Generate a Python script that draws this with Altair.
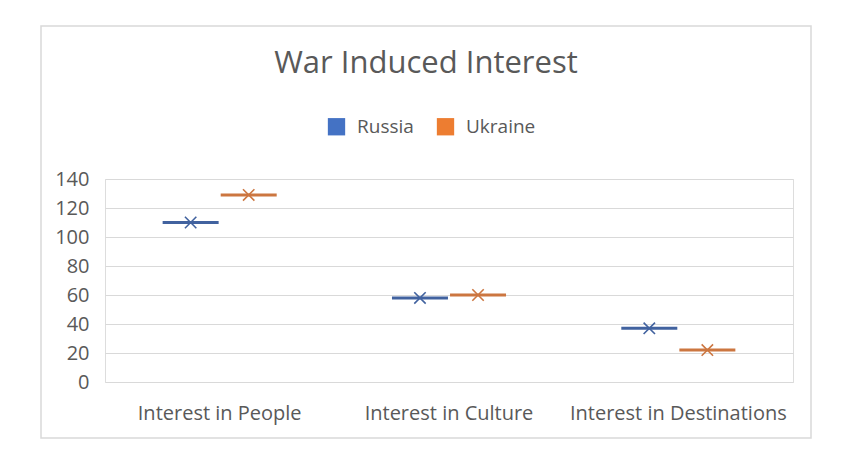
import altair as alt
import pandas as pd

categories = ["Interest in People", "Interest in Culture", "Interest in Destinations"]
series = ["Russia", "Ukraine"]
russia = [110, 58, 37]
ukraine = [129, 60, 22]
y_ticks = [0, 20, 40, 60, 80, 100, 120, 140]

rows = []
for c, r, u in zip(categories, russia, ukraine):
    rows.append({"category": c, "series": "Russia", "value": r})
    rows.append({"category": c, "series": "Ukraine", "value": u})
df = pd.DataFrame(rows)
df["mark_series"] = df["series"]

FONT = "Open Sans"
GREY = "#595959"

x_enc = alt.X("category:N", sort=categories,
              scale=alt.Scale(paddingInner=0, paddingOuter=0),
              axis=alt.Axis(title=None, labelAngle=0, labelFontSize=20, labelColor=GREY,
                            labelFont=FONT, domain=False, ticks=False, labelPadding=21,
                            labelLimit=400))
xoff = alt.XOffset("series:N", sort=series, scale=alt.Scale(paddingOuter=0.975, paddingInner=0))
y_enc = alt.Y("value:Q", scale=alt.Scale(domain=[0, 140], nice=False),
              axis=alt.Axis(title=None, values=y_ticks, labelFontSize=20, labelColor=GREY,
                            labelFont=FONT, domain=False, ticks=False, labelPadding=16,
                            gridColor="#d9d9d9", gridWidth=1.2))
color = alt.Color("series:N", sort=series,
                  scale=alt.Scale(domain=series, range=["#4472C4", "#ED7D31"]),
                  legend=alt.Legend(title=None, orient="none", legendX=222, legendY=-62,
                                    direction="horizontal", symbolType="square",
                                    symbolSize=300, symbolStrokeWidth=0, symbolOpacity=1,
                                    labelFontSize=19, labelColor=GREY, labelFont=FONT,
                                    columnPadding=22, labelOffset=11))
mark_colors = alt.Scale(domain=series, range=["#41629f", "#cc7640"])

frame = alt.Chart(pd.DataFrame({"k": [0]})).mark_rect(
    fill=None, stroke="#d9d9d9", strokeWidth=1.5
).encode(x=alt.value(-64), x2=alt.value(706), y=alt.value(-153), y2=alt.value(259))

legend_layer = alt.Chart(df).mark_square(opacity=0, filled=True).encode(
    x=x_enc, xOffset=xoff, y=y_enc, color=color)

ticks = alt.Chart(df).mark_tick(thickness=3, size=56, opacity=1).encode(
    x=x_enc, xOffset=xoff, y=y_enc,
    fill=alt.Fill("mark_series:N", sort=series, scale=mark_colors, legend=None))

xs = alt.Chart(df).mark_point(shape="M-1,-1L1,1M1,-1L-1,1", size=130, filled=False,
                              strokeWidth=1.6, opacity=1).encode(
    x=x_enc, xOffset=xoff, y=y_enc,
    stroke=alt.Stroke("mark_series:N", sort=series, scale=mark_colors, legend=None))

chart = alt.layer(frame, legend_layer, ticks, xs).properties(
    width=688, height=203,
    padding={"left": 105, "top": 179, "right": 52, "bottom": 84},
    autosize=alt.AutoSizeParams(type="none"),
    title=alt.TitleParams("War Induced Interest", fontSize=31, font=FONT, fontWeight="normal",
                          color=GREY, anchor="middle", dx=-23, offset=-55),
).configure_view(stroke=None).configure(background="white")

chart.save("out.html", embed_options={"renderer": "svg", "actions": False})
